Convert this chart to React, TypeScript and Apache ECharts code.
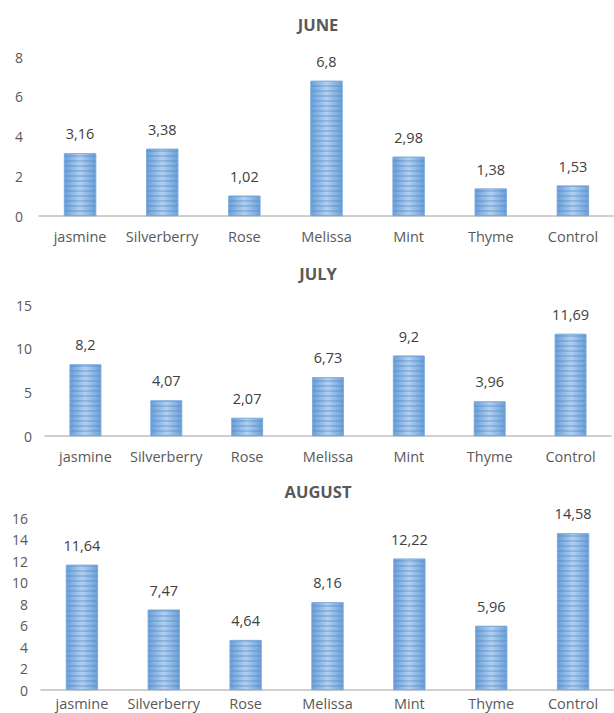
import React, { useEffect, useRef } from "react";
import * as echarts from "echarts";

const categories = ["jasmine", "Silverberry", "Rose", "Melissa", "Mint", "Thyme", "Control"];
const juneValues = [3.16, 3.38, 1.02, 6.8, 2.98, 1.38, 1.53];
const julyValues = [8.2, 4.07, 2.07, 6.73, 9.2, 3.96, 11.69];
const augustValues = [11.64, 7.47, 4.64, 8.16, 12.22, 5.96, 14.58];
const titles = ["JUNE", "JULY", "AUGUST"];
const yMax = [8, 15, 16];
const yInterval = [2, 5, 2];

const FONT = "Open Sans";
const TEXT = "#595959";

export default function App() {
  const ref = useRef<HTMLDivElement>(null);
  useEffect(() => {
    if (!ref.current) return;
    const chart = echarts.init(ref.current, undefined, { renderer: "svg" });
    const grids = [
      { top: 57, bottom: 713 - 216, left: 39, right: 0 },
      { top: 305, bottom: 713 - 436, left: 45, right: 3 },
      { top: 518, bottom: 713 - 690, left: 41, right: 0 },
    ];
    const titleTops = [11, 260, 478];
    const data = [juneValues, julyValues, augustValues];
    const barColor = new echarts.graphic.LinearGradient(0, 0, 1, 0, [
      { offset: 0, color: "#6A9FD8" },
      { offset: 0.5, color: "#B2D0EF" },
      { offset: 1, color: "#6A9FD8" },
    ]);
    chart.setOption({
      animation: false,
      backgroundColor: "#ffffff",
      title: titles.map((t, i) => ({
        text: t,
        left: 313,
        textAlign: "center",
        top: titleTops[i],
        textStyle: { fontFamily: FONT, fontSize: 16.5, fontWeight: "bold", color: TEXT },
      })),
      grid: grids,
      xAxis: grids.map((_, i) => ({
        type: "category",
        gridIndex: i,
        data: categories,
        axisLine: { lineStyle: { color: "#BFBFBF", width: 1.5 } },
        axisTick: { show: false },
        axisLabel: { fontFamily: FONT, fontSize: 14.5, color: TEXT, margin: i === 2 ? 6 : 13, interval: 0 },
      })),
      yAxis: grids.map((_, i) => ({
        type: "value",
        gridIndex: i,
        min: 0,
        max: yMax[i],
        interval: yInterval[i],
        splitLine: { show: false },
        axisLine: { show: false },
        axisTick: { show: false },
        axisLabel: { fontFamily: FONT, fontSize: 14, color: TEXT, margin: i === 0 ? 16 : 13 },
      })),
      series: data.map((vals, i) => ({
        type: "bar",
        xAxisIndex: i,
        yAxisIndex: i,
        data: vals,
        barWidth: "39%",
        itemStyle: {
          color: barColor,
          borderColor: "#79A9DC",
          borderWidth: 0.6,
          decal: {
            symbol: "rect",
            dashArrayX: [1, 0],
            dashArrayY: [1.5, 2.5],
            color: "rgba(80,135,200,0.35)",
            symbolSize: 1,
            rotation: 0,
          },
        },
        label: {
          show: true,
          position: "top",
          distance: 12,
          fontFamily: FONT,
          fontSize: 14.5,
          color: "#404040",
          formatter: (p: any) => String(p.value).replace(".", ","),
        },
      })),
    });
    return () => chart.dispose();
  }, []);
  return (
    <div
      ref={ref}
      style={{ position: "fixed", left: 0, top: 0, width: 614, height: 713 }}
    />
  );
}
